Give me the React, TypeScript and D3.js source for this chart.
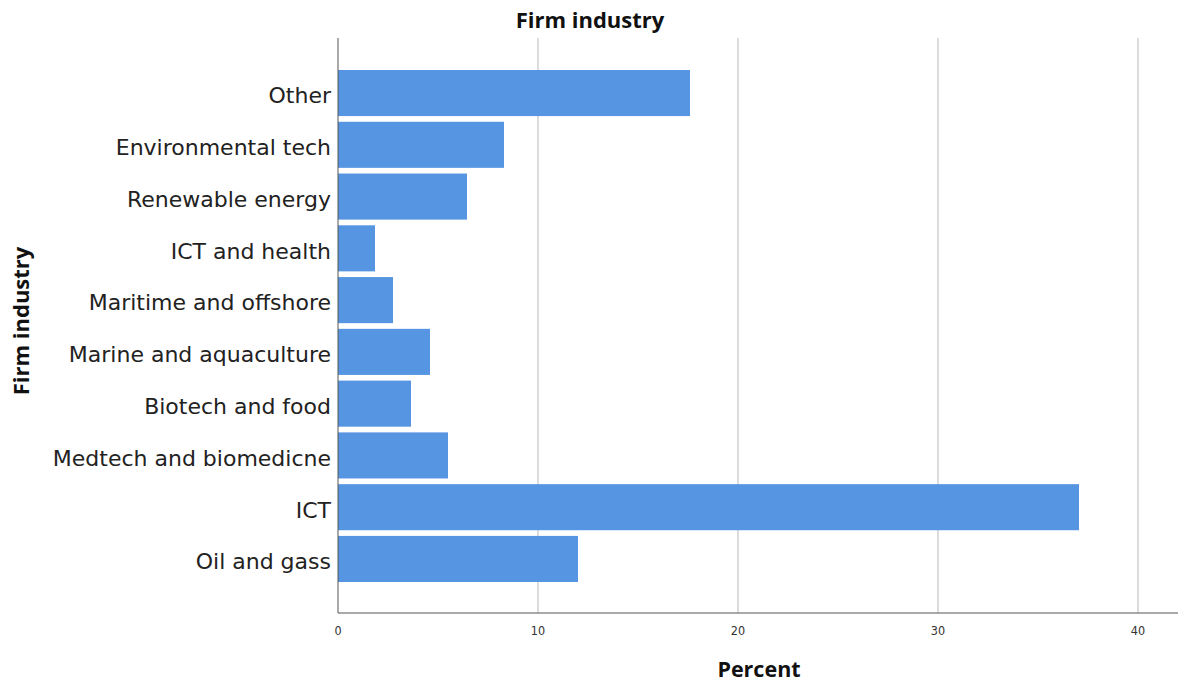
import React from "react";
import * as d3 from "d3";

const categories = [
  "Other",
  "Environmental tech",
  "Renewable energy",
  "ICT and health",
  "Maritime and offshore",
  "Marine and aquaculture",
  "Biotech and food",
  "Medtech and biomedicne",
  "ICT",
  "Oil and gass",
];
const percents = [17.6, 8.3, 6.45, 1.85, 2.75, 4.6, 3.65, 5.5, 37.05, 12.0];
const xTicks = [0, 10, 20, 30, 40];

const W = 1180;
const H = 682;
const left = 338;
const right = 1178;
const top = 38;
const bottom = 613;

export default function App() {
  const x = d3.scaleLinear().domain([0, 42]).range([left, left + 42 * 20]);
  const y = d3
    .scaleBand<string>()
    .domain(categories)
    .range([70, 582])
    .paddingInner(0.11)
    .paddingOuter(0);

  const labelFont = "'DejaVu Sans', Verdana, sans-serif";
  const boldFont = "'Open Sans', 'DejaVu Sans', sans-serif";

  return (
    <svg
      width={W}
      height={H}
      style={{ position: "absolute", left: 0, top: 0, background: "#fff" }}
    >
      <rect x={0} y={0} width={W} height={H} fill="#fff" />
      {xTicks
        .filter((t) => t > 0)
        .map((t) => (
          <line
            key={"g" + t}
            x1={x(t)}
            x2={x(t)}
            y1={top}
            y2={bottom}
            stroke="#c4c4c4"
            strokeWidth={1.2}
          />
        ))}
      {categories.map((c, i) => (
        <rect
          key={c}
          x={x(0)}
          y={y(c)}
          width={x(percents[i]) - x(0)}
          height={y.bandwidth()}
          fill="#5595e1"
        />
      ))}
      <line x1={left} x2={left} y1={top} y2={bottom} stroke="#555" strokeWidth={1} />
      <line x1={left} x2={right} y1={bottom} y2={bottom} stroke="#555" strokeWidth={1} />
      {categories.map((c) => (
        <text
          key={"l" + c}
          x={331}
          y={(y(c) as number) + y.bandwidth() / 2}
          dy="0.47em"
          textAnchor="end"
          fontFamily={labelFont}
          fontSize={22}
          fill="#222"
        >
          {c}
        </text>
      ))}
      {xTicks.map((t) => (
        <text
          key={"t" + t}
          x={x(t)}
          y={635}
          textAnchor="middle"
          fontFamily="'DejaVu Sans Condensed', 'DejaVu Sans', sans-serif"
          fontSize={12.5}
          fill="#333"
        >
          {t}
        </text>
      ))}
      <text
        x={590}
        y={28}
        textAnchor="middle"
        fontFamily={boldFont}
        fontWeight="bold"
        fontSize={22}
        fill="#111"
      >
        Firm industry
      </text>
      <text
        x={759}
        y={677}
        textAnchor="middle"
        fontFamily={boldFont}
        fontWeight="bold"
        fontSize={21.5}
        fill="#111"
      >
        Percent
      </text>
      <text
        transform={`translate(29, 321) rotate(-90)`}
        textAnchor="middle"
        fontFamily={boldFont}
        fontWeight="bold"
        fontSize={22}
        fill="#111"
      >
        Firm industry
      </text>
    </svg>
  );
}
